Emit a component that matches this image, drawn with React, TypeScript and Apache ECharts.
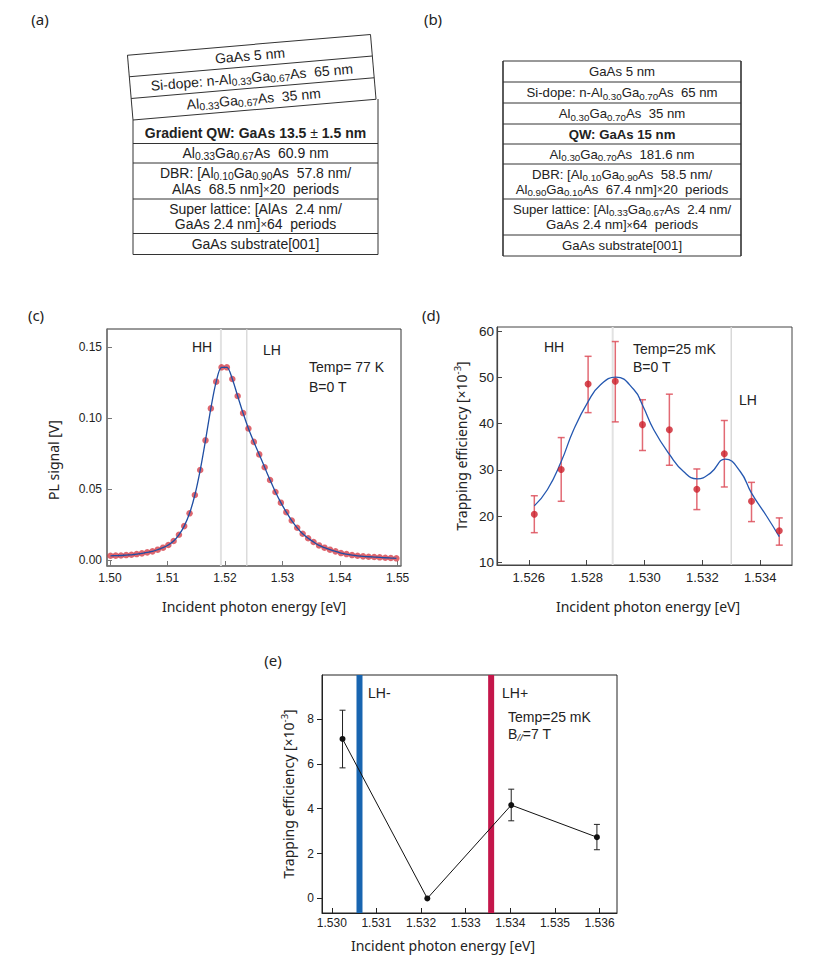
import React, { useEffect, useRef } from "react";
import * as echarts from "echarts";

const FF = "'Liberation Sans', Arial, Helvetica, sans-serif";
const FN = "'Liberation Sans Narrow', 'Liberation Sans', Arial, sans-serif";
const FT = "'Noto Sans', 'Open Sans', sans-serif";
const INK = "#222";

// ---------------- (a) layer stack ----------------
const layersATilted = [
  "GaAs 5 nm",
  "Si-dope: n-Al{s|0.33}Ga{s|0.67}As  65 nm",
  "Al{s|0.33}Ga{s|0.67}As  35 nm",
];
const layersA = [
  ["{b|Gradient QW: GaAs 13.5}{pm| ± }{b|1.5 nm}"],
  ["Al{s|0.33}Ga{s|0.67}As  60.9 nm"],
  ["DBR: [Al{s|0.10}Ga{s|0.90}As  57.8 nm/", "AlAs  68.5 nm]{x|×}20  periods"],
  ["Super lattice: [AlAs  2.4 nm/", "GaAs 2.4 nm]{x|×}64  periods"],
  ["GaAs substrate[001]"],
];

// ---------------- (b) layer stack ----------------
const layersB = [
  ["GaAs 5 nm"],
  ["Si-dope: n-Al{s|0.30}Ga{s|0.70}As  65 nm"],
  ["Al{s|0.30}Ga{s|0.70}As  35 nm"],
  ["{b|QW: GaAs 15 nm}"],
  ["Al{s|0.30}Ga{s|0.70}As  181.6 nm"],
  ["DBR: [Al{s|0.10}Ga{s|0.90}As  58.5 nm/", "Al{s|0.90}Ga{s|0.10}As  67.4 nm]{x|×}20  periods"],
  ["Super lattice: [Al{s|0.33}Ga{s|0.67}As  2.4 nm/", "GaAs 2.4 nm]{x|×}64  periods"],
  ["GaAs substrate[001]"],
];

// ---------------- (c) PL spectrum, 77 K ----------------
const plEnergy = [
  1.50011, 1.50102, 1.50193, 1.50284, 1.50375, 1.50466, 1.50557, 1.50649, 1.5074, 1.50832,
  1.50924, 1.51016, 1.51108, 1.512, 1.51292, 1.51385, 1.51477, 1.5157, 1.51662, 1.51755,
  1.51848, 1.51941, 1.52034, 1.52128, 1.52221, 1.52315, 1.52408, 1.52502, 1.52596, 1.5269,
  1.52784, 1.52878, 1.52972, 1.53067, 1.53161, 1.53256, 1.53351, 1.53446, 1.53541, 1.53636,
  1.53731, 1.53826, 1.53922, 1.54017, 1.54113, 1.54209, 1.54305, 1.54401, 1.54497, 1.54594,
  1.5469, 1.54787, 1.54883, 1.5498,
];
const plSignal = [
  0.003, 0.0031, 0.0032, 0.0035, 0.0037, 0.0042, 0.0047, 0.0054, 0.0061, 0.0073,
  0.0087, 0.0106, 0.0134, 0.0178, 0.0239, 0.0329, 0.0458, 0.0634, 0.0843, 0.1068,
  0.1256, 0.1357, 0.1357, 0.1275, 0.1155, 0.1035, 0.0926, 0.0832, 0.0744, 0.0653,
  0.0564, 0.0479, 0.0404, 0.0337, 0.0278, 0.0227, 0.0185, 0.0153, 0.0127, 0.0103,
  0.0087, 0.0073, 0.0061, 0.0049, 0.0042, 0.0035, 0.003, 0.0026, 0.0023, 0.0021,
  0.0019, 0.0016, 0.0014, 0.0012,
];
const hhLineC = 1.5193;
const lhLineC = 1.5238;
const rangeCx = [1.4995, 1.5506];
const rangeCy = [-0.0042, 0.1627];
const ticksCx = [1.5, 1.51, 1.52, 1.53, 1.54, 1.55];
const ticksCy = [0, 0.05, 0.1, 0.15];

// ---------------- (d) trapping efficiency, B = 0 ----------------
const trapEnergyD = [1.52619, 1.52712, 1.52805, 1.52899, 1.52993, 1.53086, 1.53181, 1.53276, 1.5337, 1.53466];
const trapValueD = [20.4, 30.1, 48.6, 49.2, 39.8, 38.7, 25.8, 33.5, 23.2, 16.8];
const trapLowD = [16.4, 23.2, 42.4, 40.4, 34.2, 31.0, 21.4, 26.3, 18.8, 13.7];
const trapHighD = [24.4, 37.0, 54.6, 57.8, 45.2, 46.4, 30.2, 40.7, 27.3, 19.6];
const fitEnergyD = [
  1.52619, 1.52664, 1.52712, 1.52755, 1.52805, 1.52848, 1.52901, 1.52963, 1.52994, 1.53032,
  1.53087, 1.53135, 1.53182, 1.53228, 1.53279, 1.53331, 1.5337, 1.53423, 1.53466,
];
const fitValueD = [
  22.2, 25.7, 31.8, 38.7, 44.8, 48.45, 50.1, 47.4, 43.9, 38.7,
  33.3, 29.65, 28.07, 29.3, 32.35, 29.65, 24.97, 19.9, 15.55,
];
const hhLineD = 1.5289;
const lhLineD = 1.533;
const rangeDx = [1.5249, 1.5351];
const rangeDy = [9.4, 60.95];
const ticksDx = [1.526, 1.528, 1.53, 1.532, 1.534];
const ticksDy = [10, 20, 30, 40, 50, 60];

// ---------------- (e) trapping efficiency, B// = 7 T ----------------
const trapEnergyE = [1.53024, 1.53214, 1.53402, 1.53594];
const trapValueE = [7.11, 0, 4.16, 2.73];
const trapLowE = [5.82, 0, 3.46, 2.17];
const trapHighE = [8.39, 0, 4.87, 3.3];
const lhMinusE = 1.53062;
const lhPlusE = 1.53357;
const rangeEx = [1.52978, 1.53639];
const rangeEy = [-0.65, 9.96];
const ticksEx = [1.53, 1.531, 1.532, 1.533, 1.534, 1.535, 1.536];
const ticksEy = [0, 2, 4, 6, 8];

// ---------------- helpers ----------------
function richSet(fs: number, ff: string = FF) {
  return {
    s: { fontSize: fs * 0.74, fontFamily: ff, fill: INK, lineHeight: 10, verticalAlign: "bottom" },
    sup: { fontSize: fs * 0.68, fontFamily: ff, fill: INK, lineHeight: 9, verticalAlign: "top" },
    x: { fontSize: fs * 0.8, fontFamily: ff, fill: INK, lineHeight: 17 },
    pm: { fontSize: fs, fontFamily: ff, fill: INK, lineHeight: 17 },
    b: { fontSize: fs, fontFamily: ff, fontWeight: "bold", fill: INK, lineHeight: 17 },
    i: { fontSize: fs * 0.7, fontFamily: ff, fontStyle: "italic", fill: INK, lineHeight: 9, verticalAlign: "bottom" },
  };
}

function txt(x: number, y: number, text: string, fs: number, align = "center", ff: string = FF, extra: any = {}) {
  return {
    type: "text",
    x,
    y,
    silent: true,
    ...extra,
    style: {
      text,
      fontSize: fs,
      fontFamily: ff,
      fill: INK,
      align,
      textAlign: align,
      verticalAlign: "middle",
      textVerticalAlign: "middle",
      lineHeight: 17,
      rich: richSet(fs, ff),
    },
  };
}

function ln(x1: number, y1: number, x2: number, y2: number, stroke = "#333", lineWidth = 1) {
  return { type: "line", silent: true, shape: { x1, y1, x2, y2 }, style: { stroke, lineWidth } };
}

function rowTexts(rows: string[][], tops: number[], cx: number, fs: number) {
  const els: any[] = [];
  rows.forEach((r, i) => {
    const t = tops[i];
    const b = tops[i + 1];
    const h = b - t;
    if (r.length === 1) {
      els.push(txt(cx, (t + b) / 2, r[0], fs));
    } else {
      els.push(txt(cx, t + h * 0.29, r[0], fs));
      els.push(txt(cx, t + h * 0.72, r[1], fs));
    }
  });
  return els;
}

function axis(o: any) {
  return {
    type: "value",
    gridIndex: o.grid,
    min: o.range[0],
    max: o.range[1],
    splitLine: { show: false },
    axisLine: { show: true, onZero: false, lineStyle: { color: o.color, width: o.lw } },
    axisTick: { show: true, inside: o.inside, length: 5, customValues: o.ticks, lineStyle: { color: o.color, width: 1 } },
    minorTick: { show: false },
    axisLabel: {
      show: true,
      customValues: o.ticks,
      formatter: (v: number) => v.toFixed(o.dec),
      fontSize: o.fs,
      fontFamily: o.ff,
      color: INK,
      margin: o.margin,
      hideOverlap: false,
    },
  };
}

function vline(idx: number, x: number, yr: number[], color: string, width: number) {
  return {
    type: "line",
    xAxisIndex: idx,
    yAxisIndex: idx,
    z: 1,
    silent: true,
    showSymbol: false,
    symbol: "none",
    lineStyle: { color, width },
    data: [
      [x, yr[0]],
      [x, yr[1]],
    ],
  };
}

function errorBars(idx: number, xs: number[], lo: number[], hi: number[], color: string, lw: number, cap: number) {
  return {
    type: "custom",
    xAxisIndex: idx,
    yAxisIndex: idx,
    z: 2,
    silent: true,
    data: xs.map((x, i) => [x, lo[i], hi[i]]).filter((d) => d[2] > d[1]),
    encode: { x: 0, y: [1, 2] },
    renderItem: (_p: any, api: any) => {
      const x = api.value(0);
      const a = api.coord([x, api.value(1)]);
      const b = api.coord([x, api.value(2)]);
      const st = { stroke: color, lineWidth: lw };
      return {
        type: "group",
        children: [
          { type: "line", shape: { x1: a[0], y1: a[1], x2: b[0], y2: b[1] }, style: st },
          { type: "line", shape: { x1: a[0] - cap, y1: a[1], x2: a[0] + cap, y2: a[1] }, style: st },
          { type: "line", shape: { x1: b[0] - cap, y1: b[1], x2: b[0] + cap, y2: b[1] }, style: st },
        ],
      };
    },
  };
}

function buildGraphic() {
  const els: any[] = [];
  const fsA = 14;
  const fsB = 13.2;

  // ---- (a) straight part
  const aX0 = 133;
  const aX1 = 378;
  const aTops = [123, 143.5, 163, 199, 233.5, 254.5];
  for (let i = 1; i < aTops.length; i++) els.push(ln(aX0, aTops[i], aX1, aTops[i]));
  els.push(ln(aX0, 120, aX0, 254.5));
  els.push(ln(aX1, 99, aX1, 254.5));
  els.push(...rowTexts(layersA, aTops, (aX0 + aX1) / 2, fsA));

  // ---- (a) tilted part
  const tw = 244;
  const rh = 21.7;
  const tChildren: any[] = [];
  tChildren.push(ln(0, -3 * rh, tw, -3 * rh));
  tChildren.push(ln(0, -2 * rh, tw, -2 * rh));
  tChildren.push(ln(0, -rh, tw, -rh));
  tChildren.push(ln(0, 0, tw, 0));
  tChildren.push(ln(0, -3 * rh, 0, 0));
  tChildren.push(ln(tw, -3 * rh, tw, 0));
  layersATilted.forEach((t, i) => {
    tChildren.push(txt(tw / 2, -3 * rh + rh * i + rh / 2, t, fsA));
  });
  els.push({ type: "group", x: 133, y: 120, rotation: 0.085, children: tChildren });

  // ---- (b)
  const bX0 = 503;
  const bX1 = 741;
  const bTops = [61, 82, 103, 124, 144, 164, 199, 235, 256];
  bTops.forEach((y) => els.push(ln(bX0, y, bX1, y)));
  els.push(ln(bX0, 61, bX0, 256, "#333", 1.6));
  els.push(ln(bX1, 61, bX1, 256, "#333", 1.6));
  els.push(...rowTexts(layersB, bTops, (bX0 + bX1) / 2, fsB));

  // ---- panel letters
  els.push(txt(40, 19, "(a)", 15, "center", FT));
  els.push(txt(433, 19, "(b)", 15, "center", FT));
  els.push(txt(36, 315, "(c)", 15, "center", FT));
  els.push(txt(431, 315, "(d)", 15, "center", FT));
  els.push(txt(273, 660, "(e)", 15, "center", FT));

  // ---- axis titles
  els.push(txt(254, 606, "Incident photon energy [eV]", 14, "center", FT));
  els.push(txt(648, 606, "Incident photon energy [eV]", 14, "center", FT));
  els.push(txt(443, 945, "Incident photon energy [eV]", 14, "center", FT));
  els.push(txt(53, 460, "PL signal [V]", 14, "center", FT, { rotation: Math.PI / 2 }));
  els.push(txt(461, 446, "Trapping efficiency [×10{sup|-3}]", 14, "center", FT, { rotation: Math.PI / 2 }));
  els.push(txt(288, 794, "Trapping efficiency [×10{sup|-3}]", 14, "center", FT, { rotation: Math.PI / 2 }));

  // ---- (c) annotations
  els.push(txt(202, 347, "HH", 14));
  els.push(txt(272, 350, "LH", 14));
  els.push(txt(309, 367, "Temp= 77 K", 14, "left"));
  els.push(txt(309, 387, "B=0 T", 14, "left"));

  // ---- (d) annotations
  els.push(txt(554, 347, "HH", 14));
  els.push(txt(633, 349, "Temp=25 mK", 14, "left"));
  els.push(txt(633, 367, "B=0 T", 14, "left"));
  els.push(txt(748, 400, "LH", 14));

  // ---- (e) annotations
  els.push(txt(368, 693, "LH-", 14, "left"));
  els.push(txt(502, 693, "LH+", 14, "left"));
  els.push(txt(508, 717, "Temp=25 mK", 14, "left"));
  els.push(txt(508, 734, "B{i|//}=7 T", 14, "left"));

  return els;
}

function buildOption(): any {
  const gridBase = { show: true, backgroundColor: "transparent", borderWidth: 1, outerBoundsMode: "none", containLabel: false };
  return {
    animation: false,
    backgroundColor: "#ffffff",
    grid: [
      { ...gridBase, left: 107, top: 329, width: 294, height: 237, borderColor: "#333" },
      { ...gridBase, left: 497, top: 327, width: 295, height: 238, borderColor: "#444" },
      { ...gridBase, left: 322, top: 675, width: 295, height: 238, borderColor: "#222" },
    ],
    xAxis: [
      axis({ grid: 0, range: rangeCx, ticks: ticksCx, dec: 2, inside: true, color: "#777", lw: 1.5, fs: 12, ff: FF, margin: 6 }),
      axis({ grid: 1, range: rangeDx, ticks: ticksDx, dec: 3, inside: true, color: "#444", lw: 1.2, fs: 13, ff: FF, margin: 6 }),
      axis({ grid: 2, range: rangeEx, ticks: ticksEx, dec: 3, inside: true, color: "#222", lw: 1, fs: 12, ff: FN, margin: 4 }),
    ],
    yAxis: [
      axis({ grid: 0, range: rangeCy, ticks: ticksCy, dec: 2, inside: true, color: "#777", lw: 1.5, fs: 12, ff: FF, margin: 5 }),
      axis({ grid: 1, range: rangeDy, ticks: ticksDy, dec: 0, inside: true, color: "#444", lw: 1.2, fs: 13.5, ff: FF, margin: 3 }),
      axis({ grid: 2, range: rangeEy, ticks: ticksEy, dec: 0, inside: false, color: "#222", lw: 1, fs: 12, ff: FN, margin: 8 }),
    ],
    graphic: { elements: buildGraphic() },
    series: [
      vline(0, hhLineC, rangeCy, "#e2e2e2", 2),
      vline(0, lhLineC, rangeCy, "#d2d2d2", 1.2),
      {
        type: "scatter",
        xAxisIndex: 0,
        yAxisIndex: 0,
        z: 2,
        silent: true,
        symbolSize: 6.5,
        itemStyle: { color: "rgba(206,30,42,0.85)" },
        data: plEnergy.map((x, i) => [x, plSignal[i]]),
      },
      {
        type: "line",
        xAxisIndex: 0,
        yAxisIndex: 0,
        z: 3,
        silent: true,
        showSymbol: false,
        smooth: 0.3,
        lineStyle: { color: "#1f4ea3", width: 1.3 },
        data: plEnergy.map((x, i) => [x, plSignal[i]]),
      },
      vline(1, hhLineD, rangeDy, "#e2e2e2", 2),
      vline(1, lhLineD, rangeDy, "#d8d8d8", 1.5),
      errorBars(1, trapEnergyD, trapLowD, trapHighD, "rgba(221,80,92,0.85)", 1.5, 3.5),
      {
        type: "line",
        xAxisIndex: 1,
        yAxisIndex: 1,
        z: 3,
        silent: true,
        showSymbol: false,
        smooth: 0.5,
        lineStyle: { color: "#2457b0", width: 1.3 },
        data: fitEnergyD.map((x, i) => [x, fitValueD[i]]),
      },
      {
        type: "scatter",
        xAxisIndex: 1,
        yAxisIndex: 1,
        z: 4,
        silent: true,
        symbolSize: 7,
        itemStyle: { color: "#cc1f2a" },
        data: trapEnergyD.map((x, i) => [x, trapValueD[i]]),
      },
      vline(2, lhMinusE, rangeEy, "#1865b0", 6),
      vline(2, lhPlusE, rangeEy, "#c4164a", 6),
      errorBars(2, trapEnergyE, trapLowE, trapHighE, "#222", 1, 3),
      {
        type: "line",
        xAxisIndex: 2,
        yAxisIndex: 2,
        z: 4,
        silent: true,
        symbol: "circle",
        showSymbol: true,
        symbolSize: 6,
        itemStyle: { color: "#111" },
        lineStyle: { color: "#111", width: 1 },
        data: trapEnergyE.map((x, i) => [x, trapValueE[i]]),
      },
    ],
  };
}

export default function App() {
  const ref = useRef<HTMLDivElement | null>(null);
  useEffect(() => {
    if (!ref.current) return;
    const chart = echarts.init(ref.current, undefined, { renderer: "svg" });
    chart.setOption(buildOption());
    return () => chart.dispose();
  }, []);
  return (
    <div
      ref={ref}
      style={{ position: "absolute", left: 0, top: 0, width: 817, height: 961, background: "#fff" }}
    />
  );
}
